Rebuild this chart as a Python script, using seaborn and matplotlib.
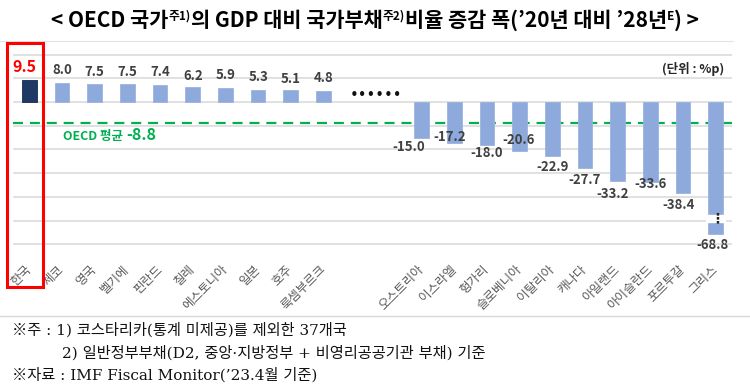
import matplotlib
matplotlib.use("Agg")
import matplotlib.pyplot as plt
from matplotlib.patches import Rectangle
from matplotlib.lines import Line2D
import seaborn as sns
import pandas as pd

# ---------------- data ----------------
countries = ['한국', '체코', '영국', '벨기에', '핀란드', '칠레', '에스토니아', '일본', '호주', '룩셈부르크',
             '오스트리아', '이스라엘', '헝가리', '슬로베니아', '이탈리아', '캐나다', '아일랜드', '아이슬란드',
             '포르투갈', '그리스']
values = [9.5, 8.0, 7.5, 7.5, 7.4, 6.2, 5.9, 5.3, 5.1, 4.8,
          -15.0, -17.2, -18.0, -20.6, -22.9, -27.7, -33.2, -33.6, -38.4, -68.8]
oecd_avg = -8.8
highlight = '한국'
title_parts = ['< OECD 국가', '주1)', '의 GDP 대비 국가부채', '주2)', '비율 증감 폭(’20년 대비 ’28년', 'E', ') >']
unit_label = '(단위 : %p)'
avg_label = ['OECD 평균 ', '-8.8']
notes = ['※주 : 1) 코스타리카(통계 미제공)를 제외한 37개국',
         '2) 일반정부부채(D2, 중앙·지방정부 + 비영리공공기관 부채) 기준',
         '※자료 : IMF Fiscal Monitor(’23.4월 기준)']

# ---------------- style ----------------
W, H = 750, 390
sns.set_theme(style='white')
plt.rcParams['font.family'] = ['Noto Sans CJK KR', 'DejaVu Sans']

CLIP = -55.5            # broken-axis display floor
BREAK = (-50.6, -47.7)  # white break band
n_left = 10
gap_slots = ['  ', '   ']
order = countries[:n_left] + gap_slots + countries[n_left:]

df = pd.DataFrame({'country': countries, 'value': values})
df['display'] = df['value'].clip(lower=CLIP)
df['group'] = ['hi' if c == highlight else 'lo' for c in countries]

fig = plt.figure(figsize=(W / 100, H / 100), dpi=100)
ax = fig.add_axes([13 / W, 1 - 249 / H, (732 - 13) / W, (249 - 44) / H])
sns.barplot(data=df, x='country', y='display', hue='group', order=order,
            palette={'hi': '#1F3864', 'lo': '#8EA9DB'}, width=0.45, dodge=False,
            legend=False, saturation=1, ax=ax, zorder=3)
for p in ax.patches:
    p.set_edgecolor('#17294d' if p.get_facecolor()[2] < 0.5 else '#9bb3df')
    p.set_linewidth(0.6)

ax.set_ylim(-62.0, 24.5)
ax.set_xlim(-0.5, len(order) - 0.5)
ax.set_yticks([20, 10, 0, -10, -20, -30, -40, -50, -60])
ax.yaxis.grid(True, color='#D9D9D9', lw=1.1, zorder=0)
ax.set_yticklabels([])
ax.tick_params(axis='y', length=0)
for s in ax.spines.values():
    s.set_visible(False)
ax.set_xlabel('')
ax.set_ylabel('')

# x tick labels
ax.set_xticks(range(len(order)))
ax.set_xticklabels([o.strip() for o in order], rotation=45, ha='right', va='center',
                   rotation_mode='anchor', fontsize=9, color='#595959')
ax.tick_params(axis='x', length=0, pad=13)

# OECD average line
ax.axhline(oecd_avg, color='#00B050', lw=1.6, ls=(0, (4.5, 3.1)), zorder=2)

# value labels
pos = {c: order.index(c) for c in countries}
offsets = [(-5, -12.5), (0, -13), (0, -12), (0, -12), (0, -12.5), (0, -11.5), (0, -13), (0, -12.5),
           (0, -11), (0, -12.5),
           (-13, 9.5), (-5, -6), (0, 8.5), (-1, -11), (0, 11), (0, 12), (-5, 13), (0, 2.5), (-4, 12), (-3, 11)]
for c, v, d, (dx, dy) in zip(countries, values, df['display'], offsets):
    hi = c == highlight
    ax.annotate(f'{v:.1f}', xy=(pos[c], d), xytext=(dx * 0.72, -dy * 0.72),
                textcoords='offset points', ha='center', va='center',
                fontsize=11.5 if hi else 9.5, fontweight='bold',
                color='#FF0000' if hi else '#404040', zorder=5)

# broken bar for the clipped value
gi = pos[countries[values.index(min(values))]]
ax.fill_between([gi - 0.3, gi + 0.3], BREAK[0], BREAK[1], color='white', zorder=4)
ax.text(gi + 0.06, sum(BREAK) / 2, '⋮', ha='center', va='center', fontsize=10,
        fontweight='bold', color='#222222', family='DejaVu Sans', zorder=5)

# ellipsis between groups
ax.text((n_left + n_left + 1) / 2 + 0.12, 2.8, '••••••', ha='center', va='center', fontsize=10.5,
        color='#111111', family='DejaVu Sans', zorder=5)

# unit label
fig.text(724 / W, 1 - 69 / H, unit_label, ha='right', va='center', fontsize=9,
         fontweight='bold', color='#262626')


def segments(parts, x_px, y_px, ha='center', **kw):
    renderer = fig.canvas.get_renderer()
    ts = []
    for s, size, rise in parts:
        t = fig.text(0, 0, s, fontsize=size, va='baseline', ha='left', **kw)
        ts.append((t, rise))
    widths = [t.get_window_extent(renderer).width for t, _ in ts]
    start = x_px - sum(widths) / 2 if ha == 'center' else x_px
    for (t, rise), w in zip(ts, widths):
        t.set_position((start / W, (H - y_px + rise) / H))
        start += w


# title
tsz, ssz = 15, 8.5
segments([(title_parts[0], tsz, 0), (title_parts[1], ssz, 7), (title_parts[2], tsz, 0),
          (title_parts[3], ssz, 7), (title_parts[4], tsz, 0), (title_parts[5], ssz, 7),
          (title_parts[6], tsz, 0)], 375, 27, fontweight='bold', color='black')

# average label
segments([(avg_label[0], 9, 0), (avg_label[1], 11.5, 0)], 63, 140, ha='left',
         fontweight='bold', color='#00B050')

# red box around highlight, lines
fig.add_artist(Rectangle((7 / W, 1 - 287 / H), 36 / W, 244 / H, transform=fig.transFigure,
                         fill=False, ec='#FF0000', lw=2.2, zorder=10))
fig.add_artist(Line2D([0, 733 / W], [1 - 41 / H] * 2, color='#E3E3E3', lw=0.8))
fig.add_artist(Line2D([0, 1], [1 - 316 / H] * 2, color='#D9D9D9', lw=1.0))

# footnotes
note_font = ['DejaVu Serif', 'Noto Sans CJK KR']
for txt, x_px, y_px in zip(notes, [12, 62, 12], [330, 353, 375]):
    fig.text(x_px / W, 1 - y_px / H, txt, ha='left', va='center', fontsize=11,
             color='#111111', family=note_font)

fig.savefig('out.png', dpi=100)
